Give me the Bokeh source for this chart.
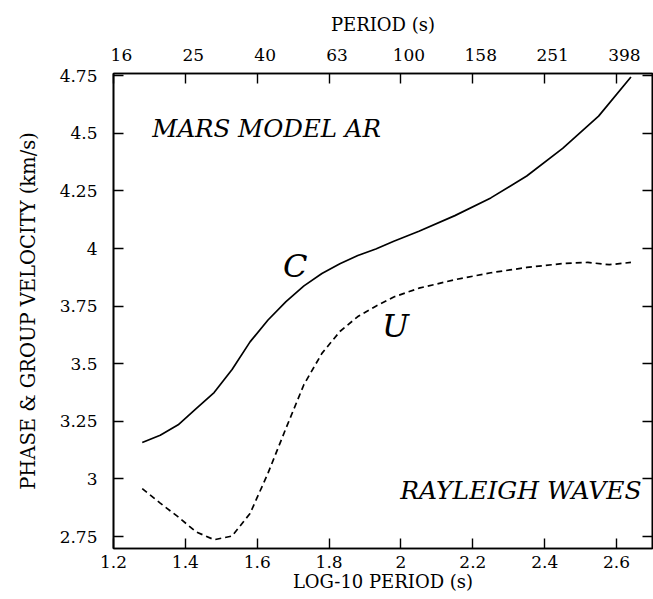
from bokeh.plotting import figure
from bokeh.models import Range1d, LinearAxis, FixedTicker, CustomJSTickFormatter
from bokeh.embed import file_html
from bokeh.resources import INLINE
from bokeh.core.properties import value

# ---- data (log10 period, velocity km/s) ----
c_logT = [1.28, 1.33, 1.38, 1.43, 1.48, 1.53, 1.58, 1.63, 1.68, 1.73, 1.78,
          1.83, 1.88, 1.93, 1.98, 2.05, 2.15, 2.25, 2.35, 2.45, 2.55, 2.64]
c_vel = [3.158, 3.19, 3.235, 3.305, 3.375, 3.475, 3.595, 3.69, 3.77, 3.838, 3.892,
         3.934, 3.97, 3.998, 4.032, 4.075, 4.143, 4.22, 4.315, 4.435, 4.575, 4.745]

u_logT = [1.28, 1.33, 1.38, 1.43, 1.48, 1.53, 1.58, 1.63, 1.68, 1.73, 1.78,
          1.83, 1.88, 1.93, 1.98, 2.05, 2.15, 2.25, 2.35, 2.45, 2.52, 2.58, 2.64]
u_vel = [2.958, 2.895, 2.835, 2.77, 2.736, 2.752, 2.85, 3.025, 3.22, 3.41, 3.545,
         3.64, 3.705, 3.75, 3.79, 3.828, 3.865, 3.895, 3.918, 3.935, 3.94, 3.93, 3.94]

x_ticks = [1.2, 1.4, 1.6, 1.8, 2.0, 2.2, 2.4, 2.6]
x_labels = ["1.2", "1.4", "1.6", "1.8", "2", "2.2", "2.4", "2.6"]
period_labels = ["16", "25", "40", "63", "100", "158", "251", "398"]
y_ticks = [2.75, 3.0, 3.25, 3.5, 3.75, 4.0, 4.25, 4.5, 4.75]
y_labels = ["2.75", "3", "3.25", "3.5", "3.75", "4", "4.25", "4.5", "4.75"]

FONT = "DejaVu Serif"
TOP_LABEL_SHIFT = 0.022  # period labels sit slightly right of their ticks

p = figure(width=653, height=599, output_backend="svg", toolbar_location=None,
           x_range=Range1d(1.2, 2.7), y_range=Range1d(2.698, 4.76),
           x_axis_location=None, y_axis_location=None,
           min_border_left=113, min_border_right=1, min_border_top=73,
           min_border_bottom=51)
p.background_fill_color = "white"
p.border_fill_color = "white"
p.outline_line_color = "black"
p.outline_line_width = 1.6
for g in p.grid:
    g.visible = False


def style_axis(ax):
    ax.major_tick_in = 10
    ax.major_tick_out = 0
    ax.minor_tick_in = 0
    ax.minor_tick_out = 0
    ax.axis_line_color = "black"
    ax.axis_line_width = 1.6
    ax.major_tick_line_width = 1.4
    ax.major_label_text_font = FONT
    ax.major_label_text_font_size = "17px"
    ax.major_label_text_color = "black"
    ax.axis_label_text_font = FONT
    ax.axis_label_text_font_size = "18px"
    ax.axis_label_text_font_style = "normal"
    ax.axis_label_text_color = "black"


blank = "return ''"

bottom = LinearAxis(ticker=FixedTicker(ticks=x_ticks, minor_ticks=[]),
                    major_label_overrides=dict(zip(x_ticks, x_labels)),
                    axis_label="LOG-10 PERIOD (s)")
style_axis(bottom)
bottom.major_label_standoff = 7
bottom.axis_label_standoff = 0
p.add_layout(bottom, "below")

# top: tick marks only (nearest the frame)
top_ticks = LinearAxis(ticker=FixedTicker(ticks=x_ticks, minor_ticks=[]),
                       formatter=CustomJSTickFormatter(code=blank))
style_axis(top_ticks)
top_ticks.major_label_standoff = 0
top_ticks.major_label_text_font_size = "1px"
p.add_layout(top_ticks, "above")

# top: period labels, slightly offset to the right as in the original
top_lab_pos = [t + TOP_LABEL_SHIFT for t in x_ticks]
top = LinearAxis(ticker=FixedTicker(ticks=top_lab_pos, minor_ticks=[]),
                 major_label_overrides=dict(zip(top_lab_pos, period_labels)),
                 axis_label="PERIOD (s)")
style_axis(top)
top.major_tick_in = 0
top.axis_line_color = None
top.major_tick_line_color = None
top.major_label_standoff = 13
top.axis_label_standoff = 11
p.add_layout(top, "above")

left = LinearAxis(ticker=FixedTicker(ticks=y_ticks, minor_ticks=[]),
                  major_label_overrides=dict(zip(y_ticks, y_labels)),
                  axis_label="PHASE & GROUP VELOCITY (km/s)")
style_axis(left)
left.major_label_standoff = 16
left.axis_label_standoff = 17
left.axis_label_text_font_size = "19.5px"
p.add_layout(left, "left")

right = LinearAxis(ticker=FixedTicker(ticks=y_ticks, minor_ticks=[]),
                   formatter=CustomJSTickFormatter(code=blank))
style_axis(right)
right.major_label_standoff = 0
right.major_label_text_font_size = "1px"
p.add_layout(right, "right")

p.line(c_logT, c_vel, line_color="black", line_width=1.7)
p.line(u_logT, u_vel, line_color="black", line_width=1.7, line_dash="6 4")

# annotations
p.text(x=[1.308], y=[4.52], text=["MARS MODEL AR"], text_font=value(FONT),
       text_font_style="italic", text_font_size="24.5px", text_align="left",
       text_baseline="alphabetic", text_color="black")
p.text(x=[2.67], y=[2.95], text=["RAYLEIGH WAVES"], text_font=value(FONT),
       text_font_style="italic", text_font_size="25px", text_align="right",
       text_baseline="alphabetic", text_color="black")
p.text(x=[1.706], y=[3.926], text=["C"], text_font=value(FONT),
       text_font_style="italic", text_font_size="32px", text_align="center",
       text_baseline="middle", text_color="black")
p.text(x=[1.985], y=[3.662], text=["U"], text_font=value(FONT),
       text_font_style="italic", text_font_size="32px", text_align="center",
       text_baseline="middle", text_color="black")

open("out.html", "w").write(file_html(p, INLINE))
